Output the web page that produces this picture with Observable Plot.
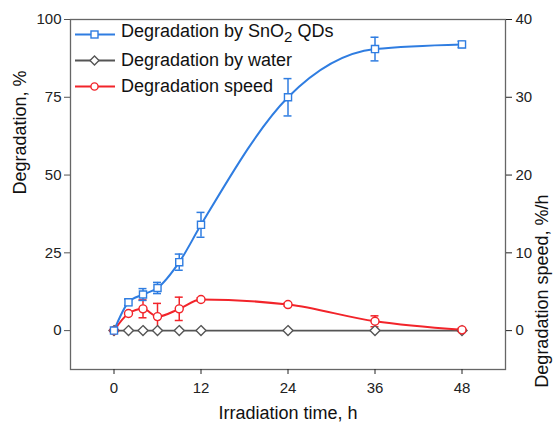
<!DOCTYPE html>
<html><head><meta charset="utf-8">
<script src="https://cdn.jsdelivr.net/npm/d3@7"></script>
<script src="https://cdn.jsdelivr.net/npm/@observablehq/plot@0.6"></script>
<style>
body{margin:0;background:#fff;font-family:"Liberation Sans",Arial,sans-serif}
#wrap{position:relative;width:553px;height:423px;overflow:hidden}
#legend{position:absolute;left:75px;top:21px;font-size:18px;color:#111;line-height:26px}
#legend div{display:flex;align-items:center;height:26px}
#legend svg{margin-right:6px}
</style>
</head><body>
<div id="wrap"></div>
<script>
const times=[0,2,4,6,9,12,24,36,48];
const sno2=[0,9.1,11.6,13.7,22,34,75,90.5,92];
const sno2Err=[0,1,1.9,1.8,2.6,4,6,3.8,1];
const water=[0,0,0,0,0,0,0,0,0];
const speed=[0,2.2,2.8,1.8,2.8,4.0,3.35,1.2,0.1];
const speedErr=[0,0,1.15,1.7,1.5,0.2,0.2,0.7,0.2];
const xTicks=[0,12,24,36,48];
const leftTicks=[0,25,50,75,100];
const rightTicks=[0,10,20,30,40];
const seriesNames=["Degradation by SnO<sub>2</sub> QDs","Degradation by water","Degradation speed"];
const colors={blue:"#2f7de1",gray:"#555555",red:"#f2242a"};

const k=100/40; // right axis mapped onto left scale
const blue=times.map((t,i)=>({t,v:sno2[i],e:sno2Err[i]}));
const gray=times.map((t,i)=>({t,v:water[i]}));
const red=times.map((t,i)=>({t,v:speed[i]*k,e:speedErr[i]*k}));
const cap=0.55;

const errMarks=(data,color)=>[
  Plot.ruleX(data.filter(d=>d.e>0),{x:"t",y1:d=>d.v-d.e,y2:d=>d.v+d.e,stroke:color,strokeWidth:1.5}),
  Plot.ruleY(data.filter(d=>d.e>0),{y:d=>d.v-d.e,x1:d=>d.t-cap,x2:d=>d.t+cap,stroke:color,strokeWidth:1.5}),
  Plot.ruleY(data.filter(d=>d.e>0),{y:d=>d.v+d.e,x1:d=>d.t-cap,x2:d=>d.t+cap,stroke:color,strokeWidth:1.5})
];

const chart=Plot.plot({
  width:553,height:423,
  marginLeft:70,marginRight:48,marginTop:19,marginBottom:54,
  style:{fontFamily:"Liberation Sans, Arial, sans-serif",color:"#222",background:"#fff"},
  x:{domain:[-6,54]},
  y:{domain:[-12.5,100]},
  marks:[
    Plot.frame({stroke:"#666",strokeWidth:1.3}),
    Plot.axisY({ticks:leftTicks,tickSize:6,tickPadding:3,fontSize:15,label:null,stroke:"#555"}),
    Plot.axisY({anchor:"right",ticks:rightTicks.map(v=>v*k),tickFormat:d=>String(Math.round(d/k)),tickSize:6,tickPadding:4,fontSize:15,label:null}),
    Plot.axisX({ticks:xTicks,tickSize:5,tickPadding:8,fontSize:15,label:null}),
    Plot.text(["Degradation, %"],{frameAnchor:"left",rotate:-90,dx:-50,fontSize:18,fill:"#111"}),
    Plot.text(["Degradation speed, %/h"],{frameAnchor:"right",rotate:-90,dx:37,fontSize:18,fill:"#111"}),
    Plot.text(["Irradiation time, h"],{frameAnchor:"bottom",dy:49,fontSize:18,fill:"#111"}),
    Plot.line(gray,{x:"t",y:"v",stroke:colors.gray,strokeWidth:1.8}),
    Plot.line(red,{x:"t",y:"v",stroke:colors.red,strokeWidth:2,curve:"monotone-x"}),
    Plot.line(blue,{x:"t",y:"v",stroke:colors.blue,strokeWidth:2,curve:"monotone-x"}),
    ...errMarks(red,colors.red),
    ...errMarks(blue,colors.blue),
    Plot.dot(gray,{x:"t",y:"v",symbol:"diamond2",r:4.5,stroke:colors.gray,fill:"#fff",strokeWidth:1.4}),
    Plot.dot(red,{x:"t",y:"v",symbol:"circle",r:4,stroke:colors.red,fill:"#fff",strokeWidth:1.4}),
    Plot.dot(blue,{x:"t",y:"v",symbol:"square",r:4,stroke:colors.blue,fill:"#fff",strokeWidth:1.4})
  ]
});
const wrap=document.getElementById("wrap");
wrap.appendChild(chart);

const sym={
  square:'<rect x="16" y="4" width="7" height="7" fill="#fff" stroke="'+colors.blue+'" stroke-width="1.4"/>',
  diamond:'<path d="M19.5 3 L24 7.5 L19.5 12 L15 7.5 Z" fill="#fff" stroke="'+colors.gray+'" stroke-width="1.4"/>',
  circle:'<circle cx="19.5" cy="7.5" r="3.6" fill="#fff" stroke="'+colors.red+'" stroke-width="1.4"/>'
};
const legendDefs=[[colors.blue,sym.square],[colors.gray,sym.diamond],[colors.red,sym.circle]];
const lg=document.createElement("div");lg.id="legend";
lg.innerHTML=seriesNames.map((n,i)=>'<div><svg width="40" height="15"><line x1="0" x2="40" y1="7.5" y2="7.5" stroke="'+legendDefs[i][0]+'" stroke-width="2"/>'+legendDefs[i][1]+'</svg><span>'+n+'</span></div>').join("");
wrap.appendChild(lg);
</script>
</body></html>
